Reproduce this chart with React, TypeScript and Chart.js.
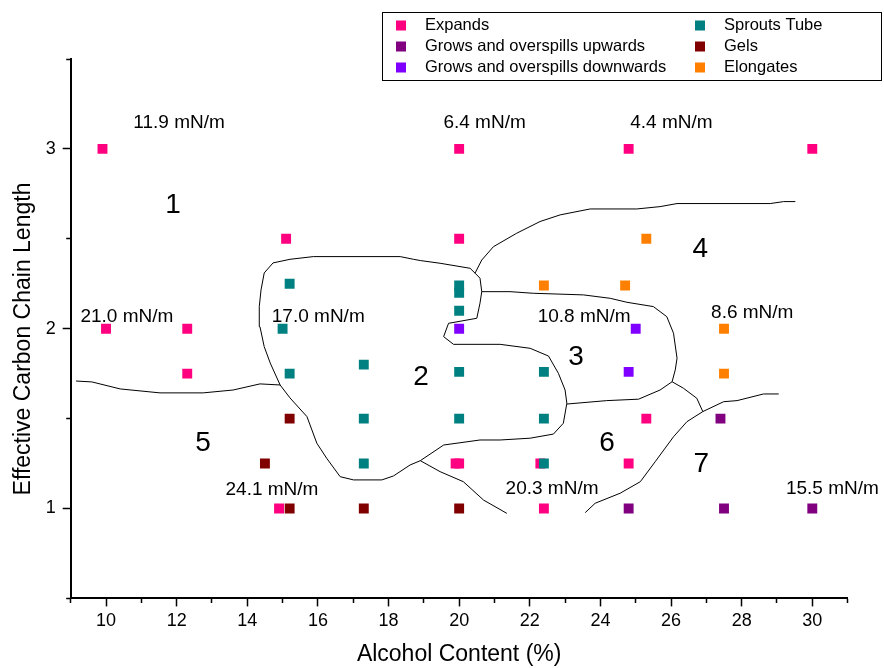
import React, { useEffect, useRef } from 'react';
import { Chart, registerables } from 'chart.js';

Chart.register(...registerables);

const FONT = '"Liberation Sans", Arial, Helvetica, sans-serif';

// ---- series ----
const seriesNames = [
  'Expands',
  'Sprouts Tube',
  'Grows and overspills upwards',
  'Gels',
  'Grows and overspills downwards',
  'Elongates',
];
const seriesColors = ['#FF0080', '#008080', '#800080', '#800000', '#8000FF', '#FF8000'];

const expands: number[][] = [
  [9.9, 3], [20, 3], [24.8, 3], [30, 3],
  [15.1, 2.5], [20, 2.5],
  [10, 2], [12.3, 2],
  [12.3, 1.75],
  [19.9, 1.25], [20, 1.25], [22.3, 1.25], [24.8, 1.25],
  [25.3, 1.5],
  [14.9, 1], [22.4, 1],
];
const sproutsTube: number[][] = [
  [15.2, 2.25], [20, 2.24], [20, 2.2], [20, 2.1],
  [15, 2],
  [15.2, 1.75], [17.3, 1.8], [20, 1.76], [22.4, 1.76],
  [17.3, 1.5], [20, 1.5], [22.4, 1.5],
  [17.3, 1.25], [22.4, 1.25],
];
const growsUp: number[][] = [[27.4, 1.5], [24.8, 1], [27.5, 1], [30, 1]];
const gels: number[][] = [[15.2, 1.5], [14.5, 1.25], [15.2, 1], [17.3, 1], [20, 1]];
const growsDown: number[][] = [[20, 2], [25, 2], [24.8, 1.76]];
const elongates: number[][] = [[25.3, 2.5], [22.4, 2.24], [24.7, 2.24], [27.5, 2], [27.5, 1.75]];

const seriesData = [expands, sproutsTube, growsUp, gels, growsDown, elongates];
const seriesOrder = [1, 0, 1, 0, 1, 1];

// ---- region boundary curves ----
const boundaryA: number[][] = [
  [9.15, 1.709], [9.6, 1.704], [10.4, 1.665], [11.53, 1.643], [12.75, 1.643],
  [13.6, 1.659], [14.36, 1.693], [14.93, 1.687],
];
const boundaryLoop: number[][] = [
  [14.73, 2.366], [15.21, 2.386], [15.87, 2.401], [18.33, 2.401], [18.71, 2.386],
  [18.9, 2.379], [19.46, 2.364], [20.31, 2.336], [20.45, 2.309], [20.59, 2.281],
  [20.64, 2.206], [20.59, 2.142], [20.5, 2.058], [19.7, 2.03], [19.56, 1.956],
  [19.84, 1.913], [21.16, 1.913], [22.01, 1.891], [22.53, 1.848], [22.81, 1.752],
  [23.0, 1.659], [23.05, 1.585], [22.95, 1.474], [22.67, 1.414], [22.01, 1.391],
  [21.16, 1.381], [20.59, 1.381], [19.56, 1.353], [18.9, 1.266], [18.61, 1.242],
  [18.14, 1.181], [17.81, 1.159], [17.01, 1.159], [16.63, 1.177], [16.25, 1.279],
  [15.97, 1.363], [15.69, 1.511], [15.21, 1.615], [14.93, 1.687], [14.65, 1.809],
  [14.48, 1.9], [14.36, 2.011], [14.34, 2.123], [14.39, 2.216], [14.48, 2.31],
  [14.73, 2.366],
];
const boundaryC: number[][] = [
  [20.45, 2.309], [20.64, 2.382], [20.97, 2.456], [21.63, 2.531], [22.29, 2.596],
  [22.86, 2.633], [23.71, 2.666], [25.03, 2.666], [25.69, 2.679], [26.17, 2.696],
  [28.81, 2.696], [29.19, 2.707], [29.52, 2.707],
];
const boundaryD: number[][] = [
  [20.64, 2.206], [21.44, 2.206], [22.1, 2.197], [23.52, 2.188], [24.28, 2.169],
  [24.75, 2.147], [25.5, 2.123], [25.88, 2.067], [26.07, 1.975], [26.17, 1.836],
  [26.12, 1.771], [26.03, 1.705], [25.69, 1.659], [25.08, 1.608], [24.18, 1.6],
  [23.05, 1.581],
];
const boundaryE: number[][] = [[26.03, 1.705], [26.35, 1.669], [26.73, 1.613], [26.9, 1.539]];
const boundaryF: number[][] = [
  [23.57, 0.977], [23.85, 1.029], [24.56, 1.085], [25.13, 1.149], [25.55, 1.26],
  [26.07, 1.399], [26.45, 1.483], [26.9, 1.539], [27.49, 1.594], [27.87, 1.6],
  [28.62, 1.637], [29.05, 1.637],
];
const boundaryG: number[][] = [[18.9, 1.266], [19.46, 1.205], [20.12, 1.149], [20.69, 1.047], [21.35, 0.973]];
const boundaries = [boundaryA, boundaryLoop, boundaryC, boundaryD, boundaryE, boundaryF, boundaryG];

// ---- annotations (data coordinates) ----
const tensionLabels = [
  '11.9 mN/m', '6.4 mN/m', '4.4 mN/m', '21.0 mN/m', '17.0 mN/m',
  '10.8 mN/m', '8.6 mN/m', '24.1 mN/m', '20.3 mN/m', '15.5 mN/m',
];
const tensionX = [12.07, 20.72, 26.01, 10.59, 16.01, 23.54, 28.3, 14.7, 22.63, 30.57];
const tensionY = [3.145, 3.145, 3.145, 2.065, 2.065, 2.065, 2.088, 1.103, 1.108, 1.108];

const regionLabels = ['1', '2', '3', '4', '5', '6', '7'];
const regionX = [11.9, 18.92, 23.31, 26.83, 12.75, 24.19, 26.86];
const regionY = [2.688, 1.732, 1.843, 2.444, 1.364, 1.364, 1.248];

const xTitle = 'Alcohol Content (%)';
const yTitle = 'Effective Carbon Chain Length';

const overlayPlugin = {
  id: 'overlay',
  afterDraw(chart: any) {
    const ctx = chart.ctx as CanvasRenderingContext2D;
    const xs = chart.scales.x;
    const ys = chart.scales.y;
    ctx.save();
    ctx.fillStyle = '#000';
    ctx.textAlign = 'center';
    ctx.textBaseline = 'middle';

    ctx.font = `19px ${FONT}`;
    tensionLabels.forEach((t, i) => {
      ctx.fillText(t, xs.getPixelForValue(tensionX[i]), ys.getPixelForValue(tensionY[i]));
    });

    ctx.font = `28px ${FONT}`;
    regionLabels.forEach((t, i) => {
      ctx.fillText(t, xs.getPixelForValue(regionX[i]), ys.getPixelForValue(regionY[i]));
    });

    // y axis title
    ctx.save();
    ctx.font = `23px ${FONT}`;
    ctx.translate(24, 339);
    ctx.rotate(-Math.PI / 2);
    ctx.fillText(yTitle, 0, 0);
    ctx.restore();

    // legend
    ctx.strokeStyle = '#000';
    ctx.lineWidth = 1;
    ctx.strokeRect(382.5, 12.5, 499, 68);
    ctx.font = `16.5px ${FONT}`;
    ctx.textAlign = 'left';
    seriesNames.forEach((name, i) => {
      const col = i % 2;
      const row = Math.floor(i / 2);
      const mx = col ? 700 : 401;
      const tx = col ? 724 : 425;
      const y = 25.5 + row * 21;
      ctx.fillStyle = seriesColors[i];
      ctx.fillRect(mx - 5, y - 5, 10, 10);
      ctx.fillStyle = '#000';
      ctx.fillText(name, tx, y);
    });
    ctx.restore();
  },
};

export default function App() {
  const ref = useRef<HTMLCanvasElement | null>(null);

  useEffect(() => {
    if (!ref.current) return;
    const pointSets = seriesData.map((d, i) => ({
      type: 'scatter' as const,
      label: seriesNames[i],
      data: d.map(([x, y]) => ({ x, y })),
      backgroundColor: seriesColors[i],
      borderColor: seriesColors[i],
      borderWidth: 0,
      pointStyle: 'rect' as const,
      pointRadius: 7,
      pointHoverRadius: 7,
      showLine: false,
      order: seriesOrder[i],
    }));
    const lineSets = boundaries.map((d, i) => ({
      type: 'scatter' as const,
      label: 'boundary' + i,
      data: d.map(([x, y]) => ({ x, y })),
      borderColor: '#000',
      backgroundColor: '#000',
      borderWidth: 1,
      pointRadius: 0,
      pointHoverRadius: 0,
      showLine: true,
      fill: false,
      tension: 0,
      order: 3,
    }));

    const chart = new Chart(ref.current, {
      type: 'scatter',
      data: { datasets: [...pointSets, ...lineSets] as any },
      options: {
        animation: false,
        responsive: false,
        events: [],
        layout: { padding: { left: 0, top: 59, right: 36.4, bottom: 0 } },
        plugins: { legend: { display: false }, tooltip: { enabled: false } },
        scales: {
          x: {
            type: 'linear',
            position: 'bottom',
            min: 9,
            max: 31,
            afterFit: (s: any) => { s.height = 69.6; },
            ticks: {
              stepSize: 1,
              autoSkip: false,
              maxRotation: 0,
              padding: 4,
              color: '#000',
              font: { family: FONT, size: 18 },
              callback: (v: any) => (Number(v) % 2 === 0 ? String(v) : ''),
            },
            grid: {
              display: true,
              drawOnChartArea: false,
              drawTicks: true,
              tickLength: 8,
              tickWidth: 1.5,
              tickColor: '#000',
              tickBorderDash: (c: any) => (c.tick && Number(c.tick.value) % 2 !== 0 ? [4, 40] : []),
            } as any,
            border: { display: true, color: '#000', width: 2 },
            title: {
              display: true,
              text: xTitle,
              color: '#000',
              font: { family: FONT, size: 23 },
              padding: { top: 0, bottom: 0 },
            },
          },
          y: {
            type: 'linear',
            position: 'left',
            min: 0.5,
            max: 3.5,
            afterFit: (s: any) => { s.width = 70.7; },
            ticks: {
              stepSize: 0.5,
              autoSkip: false,
              padding: 7,
              color: '#000',
              font: { family: FONT, size: 18 },
              callback: (v: any) => (Number.isInteger(Number(v)) ? String(v) : ''),
            },
            grid: {
              display: true,
              drawOnChartArea: false,
              drawTicks: true,
              tickLength: 8,
              tickWidth: 1.5,
              tickColor: '#000',
              tickBorderDash: (c: any) => (c.tick && !Number.isInteger(Number(c.tick.value)) ? [10, 3.5] : []),
              tickBorderDashOffset: (c: any) => (c.tick && !Number.isInteger(Number(c.tick.value)) ? 10 : 0),
            } as any,
            border: { display: true, color: '#000', width: 2 },
            title: { display: false },
          },
        },
      },
      plugins: [overlayPlugin],
    });
    return () => chart.destroy();
  }, []);

  return (
    <div style={{ position: 'absolute', left: 0, top: 0, width: 884, height: 668, background: '#fff' }}>
      <canvas ref={ref} width={884} height={668} style={{ display: 'block', width: 884, height: 668 }} />
    </div>
  );
}
